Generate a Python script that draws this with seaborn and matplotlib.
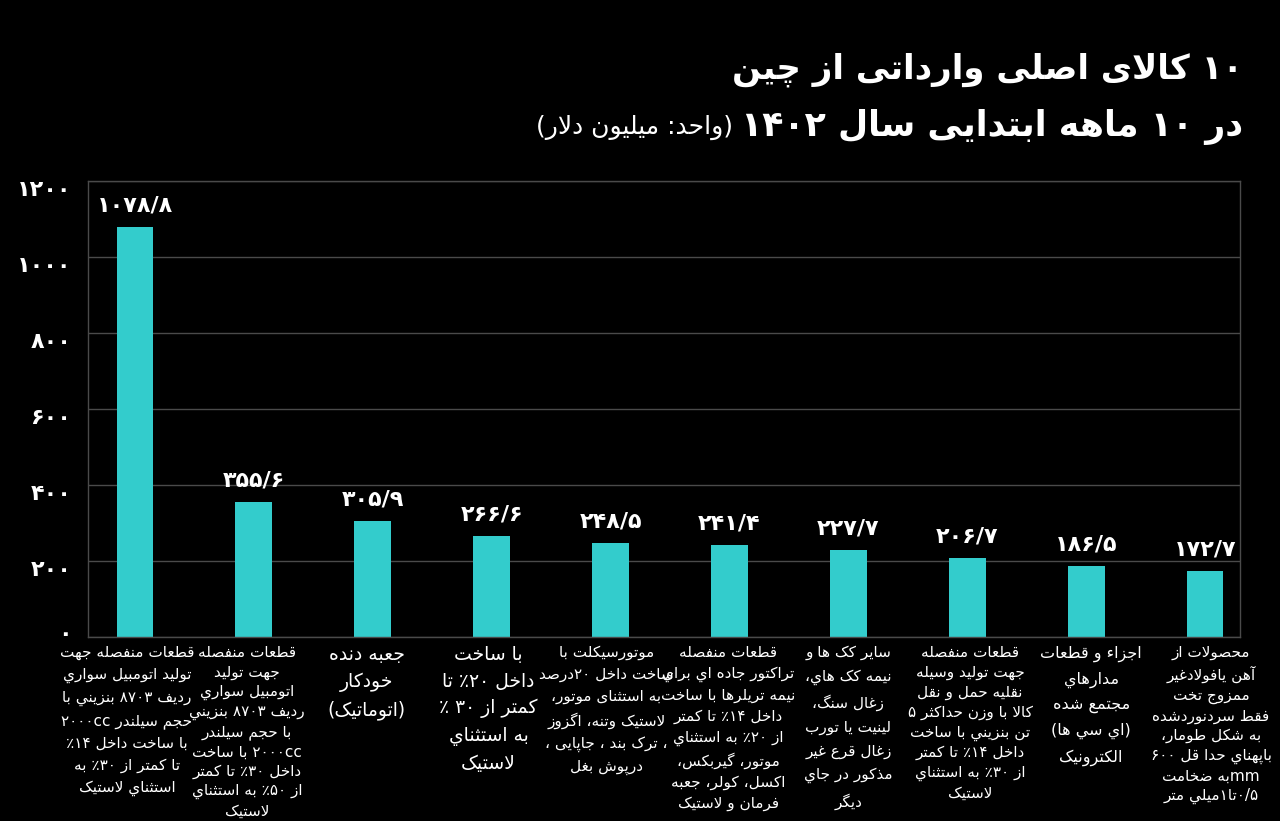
import matplotlib
matplotlib.use("Agg")
import matplotlib.pyplot as plt
import matplotlib.transforms as mtransforms
import seaborn as sns
import pandas as pd

# ---------------- data ----------------
values = [1078.8, 355.6, 305.9, 266.6, 248.5, 241.4, 227.7, 206.7, 186.5, 172.7]
categories = [
    "قطعات منفصله جهت\nتولید اتومبیل سواري\nردیف ۸۷۰۳ بنزیني با\nحجم سیلندر ۲۰۰۰cc\nبا ساخت داخل ۱۴٪\nتا کمتر از ۳۰٪ به\nاستثناي لاستیک",
    "قطعات منفصله\nجهت تولید\nاتومبیل سواري\nردیف ۸۷۰۳ بنزیني\nبا حجم سیلندر\n۲۰۰۰cc با ساخت\nداخل ۳۰٪ تا کمتر\nاز ۵۰٪ به استثناي\nلاستیک",
    "جعبه دنده\nخودکار\n(اتوماتیک)",
    "با ساخت\nداخل ۲۰٪ تا\nکمتر از ۳۰ ٪\nبه استثناي\nلاستیک",
    "موتورسیکلت با\nساخت داخل ۲۰درصد\nبه استثنای موتور،\nلاستیک وتنه، اگزوز\n، ترک بند ، جاپایی ،\nدرپوش بغل",
    "قطعات منفصله\nتراکتور جاده اي براي\nنیمه تریلرها با ساخت\nداخل ۱۴٪ تا کمتر\nاز ۲۰٪ به استثناي\nموتور، گیربکس،\nاکسل، کولر، جعبه\nفرمان و لاستیک",
    "سایر کک ها و\nنیمه کک هاي،\nزغال سنگ،\nلینیت یا تورب\nزغال قرع غیر\nمذکور در جاي\nدیگر",
    "قطعات منفصله\nجهت تولید وسیله\nنقلیه حمل و نقل\nکالا با وزن حداکثر ۵\nتن بنزیني با ساخت\nداخل ۱۴٪ تا کمتر\nاز ۳۰٪ به استثناي\nلاستیک",
    "اجزاء و قطعات\nمدارهاي\nمجتمع شده\n(اي سي ها)\nالکترونیک",
    "محصولات از\nآهن یافولادغیر\nممزوج تخت\nفقط سردنوردشده\nبه شکل طومار،\nباپهناي حدا قل ۶۰۰\nmmبه ضخامت\n۰/۵تا۱میلي متر",
]
yticks = [0, 200, 400, 600, 800, 1000, 1200]
title1 = "۱۰ کالای اصلی وارداتی از چین"
title2 = "در ۱۰ ماهه ابتدایی سال ۱۴۰۲"
unit_text = "(واحد: میلیون دلار)"

# ---------------- minimal Arabic/Persian shaping + bidi ----------------
_FE = [("\u0621", 0xFE80, 1), ("\u0622", 0xFE81, 2), ("\u0623", 0xFE83, 2),
       ("\u0624", 0xFE85, 2), ("\u0625", 0xFE87, 2), ("\u0626", 0xFE89, 4),
       ("\u0627", 0xFE8D, 2), ("\u0628", 0xFE8F, 4), ("\u0629", 0xFE93, 2),
       ("\u062A", 0xFE95, 4), ("\u062B", 0xFE99, 4), ("\u062C", 0xFE9D, 4),
       ("\u062D", 0xFEA1, 4), ("\u062E", 0xFEA5, 4), ("\u062F", 0xFEA9, 2),
       ("\u0630", 0xFEAB, 2), ("\u0631", 0xFEAD, 2), ("\u0632", 0xFEAF, 2),
       ("\u0633", 0xFEB1, 4), ("\u0634", 0xFEB5, 4), ("\u0635", 0xFEB9, 4),
       ("\u0636", 0xFEBD, 4), ("\u0637", 0xFEC1, 4), ("\u0638", 0xFEC5, 4),
       ("\u0639", 0xFEC9, 4), ("\u063A", 0xFECD, 4), ("\u0641", 0xFED1, 4),
       ("\u0642", 0xFED5, 4), ("\u0643", 0xFED9, 4), ("\u0644", 0xFEDD, 4),
       ("\u0645", 0xFEE1, 4), ("\u0646", 0xFEE5, 4), ("\u0647", 0xFEE9, 4),
       ("\u0648", 0xFEED, 2), ("\u0649", 0xFEEF, 2), ("\u064A", 0xFEF1, 4),
       ("\u067E", 0xFB56, 4), ("\u0686", 0xFB7A, 4), ("\u0698", 0xFB8A, 2),
       ("\u06A9", 0xFB8E, 4), ("\u06AF", 0xFB92, 4), ("\u06CC", 0xFBFC, 4)]
FORMS = {}
for ch, base, n in _FE:
    forms = [chr(base + k) for k in range(n)] + [None] * (4 - n)
    FORMS[ch] = (forms, {1: "U", 2: "R", 4: "D"}[n])
LAMALEF = {"\u0622": ("\uFEF5", "\uFEF6"), "\u0623": ("\uFEF7", "\uFEF8"),
           "\u0625": ("\uFEF9", "\uFEFA"), "\u0627": ("\uFEFB", "\uFEFC")}
MIRROR = {"(": ")", ")": "(", "[": "]", "]": "["}


def _shape(s):
    out, prev_d, i, n = [], False, 0, len(s)
    while i < n:
        c = s[i]
        if c not in FORMS:
            out.append(c)
            prev_d = False
            i += 1
            continue
        forms, t = FORMS[c]
        if c == "\u0644" and i + 1 < n and s[i + 1] in LAMALEF:
            iso, fin = LAMALEF[s[i + 1]]
            out.append(fin if prev_d else iso)
            prev_d = False
            i += 2
            continue
        nxt = s[i + 1] if i + 1 < n else ""
        nj = t == "D" and nxt in FORMS and FORMS[nxt][1] in ("D", "R")
        if t == "U":
            f = forms[0]
        elif t == "R":
            f = forms[1] if prev_d else forms[0]
        else:
            if prev_d and nj:
                f = forms[3]
            elif prev_d:
                f = forms[1]
            elif nj:
                f = forms[2]
            else:
                f = forms[0]
        out.append(f)
        prev_d = t == "D"
        i += 1
    return "".join(out)


def _is_ltr(c):
    return ("0" <= c <= "9") or ("\u06F0" <= c <= "\u06F9") or ("\u0660" <= c <= "\u0669") \
        or ("a" <= c.lower() <= "z")


def _bidi(s):
    toks, i, n = [], 0, len(s)
    while i < n:
        if _is_ltr(s[i]):
            j = i
            while j < n and (_is_ltr(s[j]) or (s[j] in "/.٫" and j + 1 < n and _is_ltr(s[j + 1]))):
                j += 1
            toks.append(("L", s[i:j]))
        else:
            j = i
            while j < n and not _is_ltr(s[j]):
                j += 1
            toks.append(("R", s[i:j]))
        i = j
    out = []
    for t, txt in reversed(toks):
        out.append(txt if t == "L" else "".join(MIRROR.get(c, c) for c in reversed(txt)))
    return "".join(out)


def fa(s):
    return "\n".join(_bidi(_shape(line)) for line in s.split("\n"))


PDIG = str.maketrans("0123456789", "۰۱۲۳۴۵۶۷۸۹")


def fa_num(v, dec=1):
    txt = f"{v:.{dec}f}".replace(".", "/") if dec else f"{v:.0f}"
    return txt.translate(PDIG)


# ---------------- figure ----------------
sns.set_theme(style="dark")
plt.rcParams["font.family"] = ["DejaVu Sans"]
BG = "#000000"
BAR = "#33CCCC"
GRID = "#4a4a4a"

fig = plt.figure(figsize=(12.8, 8.21), dpi=100, facecolor=BG)
ax = fig.add_axes([88 / 1280, 184 / 821, (1240 - 88) / 1280, (637 - 181) / 821])
ax.set_facecolor(BG)

df = pd.DataFrame({"cat": [f"c{i}" for i in range(len(values))], "value": values})
sns.barplot(data=df, x="cat", y="value", color=BAR, saturation=1, width=0.31,
            edgecolor="none", linewidth=0, ax=ax)

ax.set_ylim(0, 1200)
ax.set_xlim(-0.395, 9.294)
ax.set_yticks(yticks)
ax.set_yticklabels([fa_num(t, 0) for t in yticks], color="white", fontsize=16, fontweight="bold")
ax.yaxis.grid(True, color=GRID, linewidth=1)
ax.xaxis.grid(False)
ax.set_axisbelow(True)
for side in ["left", "right", "bottom", "top"]:
    ax.spines[side].set_visible(True)
    ax.spines[side].set_color(GRID)
    ax.spines[side].set_linewidth(1)
ax.tick_params(axis="y", length=0, pad=12)
ax.tick_params(axis="x", length=0, pad=6)
ax.set_xlabel("")
ax.set_ylabel("")

# y tick labels sit a little below their gridline, the zero label a little above the axis
for k, lbl in enumerate(ax.get_yticklabels()):
    dy = 5 if k == 0 else -7
    lbl.set_transform(lbl.get_transform() +
                      mtransforms.ScaledTranslation(0, dy / 100, fig.dpi_scale_trans))

# category labels: font size, line pitch (px) and horizontal nudge (px) per label
label_fs = [11, 11, 13.5, 13.5, 11, 11, 11, 11, 11.5, 11]
label_pitch = [22.5, 19.3, 27, 26.5, 22.5, 21.2, 24.5, 19.8, 27, 19.8]
label_dx = [-8, -7, -6, -3, -4, -1, 0, 3, 5, 6]
ax.set_xticks(range(len(categories)))
ax.set_xticklabels([fa(c) for c in categories], color="white", fontsize=11,
                   va="top", ha="center", multialignment="center")
for i, lbl in enumerate(ax.get_xticklabels()):
    lbl.set_fontsize(label_fs[i])
    lbl.set_linespacing(label_pitch[i] / (1.305 * label_fs[i]))
    lbl.set_transform(lbl.get_transform() +
                      mtransforms.ScaledTranslation(label_dx[i] / 100, 0, fig.dpi_scale_trans))

# value labels
for i, v in enumerate(values):
    ax.annotate(fa_num(v), xy=(i, v), xytext=(0, 15.5), textcoords="offset points",
                ha="center", va="center", color="white", fontsize=16, fontweight="bold")

# titles
fig.text(1243 / 1280, 1 - 70 / 821, fa(title1), ha="right", va="center",
         color="white", fontsize=24.5, fontweight="bold")
t2 = fig.text(1243 / 1280, 1 - 127 / 821, fa(title2), ha="right", va="center",
              color="white", fontsize=25, fontweight="bold")
fig.canvas.draw()
bb = t2.get_window_extent()
fig.text((bb.x0 - 8) / 1280, 1 - 127 / 821, fa(unit_text), ha="right", va="center",
         color="white", fontsize=18)

fig.savefig("out.png", dpi=100, facecolor=BG)
